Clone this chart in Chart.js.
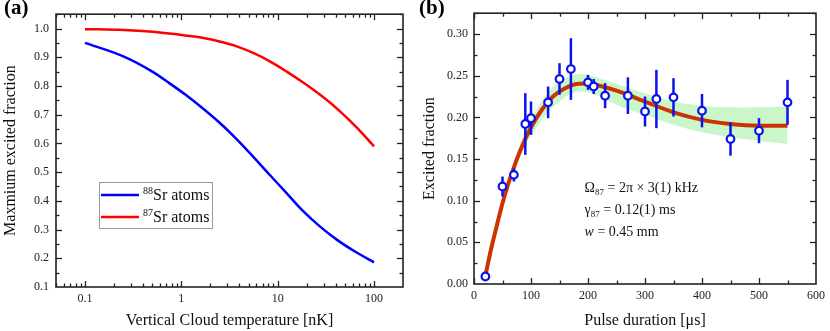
<!DOCTYPE html>
<html>
<head>
<meta charset="utf-8">
<script src="https://cdn.jsdelivr.net/npm/chart.js@4.4.1/dist/chart.umd.min.js"></script>
<style>
  html, body { margin: 0; padding: 0; background: #fff; }
  #wrap { position: relative; width: 830px; height: 331px; }
  .panel { position: absolute; top: 0; width: 415px; height: 331px; }
</style>
</head>
<body>
<div id="wrap">
  <div class="panel" style="left:0"><canvas id="tempChart" width="415" height="331"></canvas></div>
  <div class="panel" style="left:415px"><canvas id="pulseChart" width="415" height="331"></canvas></div>
</div>
<script>
// ---- panel (a) data ----
const tempValues   = [0.1, 0.25, 0.5, 0.75, 1.1, 1.7, 2.5, 3.7, 5.5, 8.3, 12.3, 18.4, 27.4, 41, 66, 100];
const sr88Fraction = [0.950, 0.903, 0.850, 0.810, 0.770, 0.720, 0.672, 0.617, 0.556, 0.490, 0.428, 0.364, 0.311, 0.265, 0.220, 0.186];
const sr87Fraction = [0.998, 0.995, 0.989, 0.983, 0.976, 0.967, 0.955, 0.939, 0.916, 0.886, 0.851, 0.812, 0.770, 0.722, 0.656, 0.590];
const tempTicks    = [0.1, 1, 10, 100];
const legendIsotopes = ['88', '87'];
const legendText     = 'Sr atoms';

// ---- panel (b) data ----
const pulseTimes      = [20, 50, 70, 90, 100, 130, 150, 170, 200, 210, 230, 270, 300, 320, 350, 400, 450, 500, 550];
const excitedMeasured = [0.009, 0.117, 0.131, 0.192, 0.199, 0.218, 0.246, 0.258, 0.242, 0.237, 0.226, 0.226, 0.207, 0.222, 0.224, 0.208, 0.174, 0.184, 0.218];
const excitedErrors   = [0.002, 0.012, 0.008, 0.037, 0.020, 0.019, 0.019, 0.037, 0.009, 0.009, 0.015, 0.022, 0.018, 0.035, 0.023, 0.020, 0.020, 0.015, 0.027];
const fitTimes  = [20, 30, 40, 50, 60, 70, 80, 90, 100, 120, 140, 160, 180, 200, 220, 250, 300, 350, 400, 450, 500, 550];
const fitValues = [0.010, 0.042, 0.070, 0.097, 0.120, 0.140, 0.158, 0.174, 0.188, 0.210, 0.226, 0.235, 0.240, 0.2405, 0.238, 0.232, 0.219, 0.206, 0.197, 0.192, 0.190, 0.190];
const bandTimes = [30, 50, 70, 90, 110, 130, 150, 170, 190, 220, 260, 300, 350, 400, 450, 500, 550];
const bandUpper = [0.045, 0.101, 0.146, 0.184, 0.210, 0.230, 0.243, 0.250, 0.252, 0.247, 0.238, 0.229, 0.219, 0.214, 0.212, 0.212, 0.213];
const bandLower = [0.039, 0.093, 0.134, 0.166, 0.188, 0.206, 0.219, 0.228, 0.231, 0.225, 0.212, 0.203, 0.191, 0.182, 0.176, 0.172, 0.168];
const fitLabels = [
  { sym: 'Ω', sub: '87', rest: ' = 2π × 3(1) kHz', italic: false },
  { sym: 'γ', sub: '87', rest: ' = 0.12(1) ms', italic: false },
  { sym: 'w', sub: '', rest: ' = 0.45 mm', italic: true }
];

const SERIF = '"Liberation Serif", "Times New Roman", serif';
const INK = '#222';

function pairs(xs, ys) {
  return xs.map((x, i) => ({ x: x, y: ys[i] }));
}

// frame + inward ticks on all four sides
const frameTicks = {
  id: 'frameTicks',
  afterDraw(chart, args, opts) {
    const { ctx, chartArea: a, scales: { x, y } } = chart;
    ctx.save();
    ctx.strokeStyle = INK;
    ctx.lineWidth = 1.3;
    const seg = (x1, y1, x2, y2) => { ctx.beginPath(); ctx.moveTo(x1, y1); ctx.lineTo(x2, y2); ctx.stroke(); };
    const xMarks = x.ticks.map(t => [t.value, 6]).concat(opts.xMinor.map(v => [v, 3.5]));
    const yMarks = y.ticks.map(t => [t.value, 6]).concat(opts.yMinor.map(v => [v, 3.5]));
    xMarks.forEach(([v, len]) => {
      const px = Math.round(x.getPixelForValue(v)) + 0.5;
      if (px < a.left || px > a.right) return;
      seg(px, a.bottom, px, a.bottom - len);
      seg(px, a.top, px, a.top + len);
    });
    yMarks.forEach(([v, len]) => {
      const py = Math.round(y.getPixelForValue(v)) + 0.5;
      if (py < a.top || py > a.bottom) return;
      seg(a.left, py, a.left + len, py);
      seg(a.right, py, a.right - len, py);
    });
    ctx.lineWidth = 1.6;
    ctx.strokeRect(a.left, a.top, a.width, a.height);
    // panel letter
    ctx.fillStyle = '#000';
    ctx.font = 'bold 21px ' + SERIF;
    ctx.textBaseline = 'alphabetic';
    ctx.textAlign = 'left';
    ctx.fillText(opts.letter, 4, 14);
    ctx.restore();
  }
};

// legend of panel (a), with superscript mass numbers
const isoLegend = {
  id: 'isoLegend',
  afterDraw(chart) {
    const { ctx } = chart;
    ctx.save();
    ctx.strokeStyle = '#999';
    ctx.lineWidth = 1;
    ctx.strokeRect(99.5, 182.5, 113, 46);
    chart.data.datasets.forEach((ds, i) => {
      const yy = 195 + i * 22;
      ctx.strokeStyle = ds.borderColor;
      ctx.lineWidth = 2.5;
      ctx.beginPath(); ctx.moveTo(101, yy); ctx.lineTo(139, yy); ctx.stroke();
      ctx.fillStyle = '#111';
      ctx.textAlign = 'left';
      ctx.textBaseline = 'alphabetic';
      ctx.font = '10px ' + SERIF;
      ctx.fillText(legendIsotopes[i], 143, yy - 1);
      ctx.font = '16px ' + SERIF;
      ctx.fillText(legendText, 153, yy + 5);
    });
    ctx.restore();
  }
};

// vertical error bars, drawn just before the open circles
const errorBars = {
  id: 'errorBars',
  beforeDatasetDraw(chart, args) {
    if (args.index !== 0) return;
    const { ctx, scales: { x, y } } = chart;
    ctx.save();
    ctx.strokeStyle = '#0a12f0';
    ctx.lineWidth = 2.5;
    pulseTimes.forEach((t, i) => {
      const px = x.getPixelForValue(t);
      ctx.beginPath();
      ctx.moveTo(px, y.getPixelForValue(excitedMeasured[i] - excitedErrors[i]));
      ctx.lineTo(px, y.getPixelForValue(excitedMeasured[i] + excitedErrors[i]));
      ctx.stroke();
    });
    ctx.restore();
  }
};

// fit parameter text in panel (b)
const fitText = {
  id: 'fitText',
  afterDraw(chart) {
    const { ctx, scales: { x, y } } = chart;
    ctx.save();
    ctx.fillStyle = '#111';
    ctx.textAlign = 'left';
    ctx.textBaseline = 'alphabetic';
    const px0 = x.getPixelForValue(194);
    fitLabels.forEach((f, i) => {
      const py = y.getPixelForValue(0.110 - i * 0.026);
      let px = px0;
      ctx.font = (f.italic ? 'italic ' : '') + '14px ' + SERIF;
      ctx.fillText(f.sym, px, py);
      px += ctx.measureText(f.sym).width;
      if (f.sub) {
        ctx.font = '9px ' + SERIF;
        ctx.fillText(f.sub, px, py + 3);
        px += ctx.measureText(f.sub).width;
      }
      ctx.font = '14px ' + SERIF;
      ctx.fillText(f.rest, px, py);
    });
    ctx.restore();
  }
};

function logMinors(lo, hi) {
  const out = [];
  for (let d = -2; d <= 2; d++) {
    for (let k = 2; k <= 9; k++) {
      const v = k * Math.pow(10, d);
      if (v >= lo && v <= hi) out.push(v);
    }
  }
  return out;
}

const tickFont = { family: SERIF, size: 12 };
const titleFont = { family: SERIF, size: 16 };

// ---- panel (a) ----
new Chart(document.getElementById('tempChart'), {
  type: 'line',
  data: {
    datasets: [
      {
        label: '88Sr atoms',
        data: pairs(tempValues, sr88Fraction),
        borderColor: '#0000ff',
        borderWidth: 2.5,
        pointRadius: 0,
        cubicInterpolationMode: 'monotone',
        fill: false
      },
      {
        label: '87Sr atoms',
        data: pairs(tempValues, sr87Fraction),
        borderColor: '#ff0000',
        borderWidth: 2.5,
        pointRadius: 0,
        cubicInterpolationMode: 'monotone',
        fill: false
      }
    ]
  },
  options: {
    responsive: false,
    animation: false,
    layout: { padding: { left: 0, right: 12, top: 8, bottom: 0 } },
    plugins: {
      legend: { display: false },
      tooltip: { enabled: false },
      frameTicks: { letter: '(a)', xMinor: logMinors(0.05, 200), yMinor: [0.15, 0.25, 0.35, 0.45, 0.55, 0.65, 0.75, 0.85, 0.95, 1.05] }
    },
    scales: {
      x: {
        type: 'logarithmic',
        min: 0.05,
        max: 200,
        afterBuildTicks: s => { s.ticks = tempTicks.map(v => ({ value: v })); },
        afterFit: s => { s.height = 44; },
        grid: { display: false, drawTicks: false },
        border: { display: false },
        ticks: { font: tickFont, color: INK, padding: 5, maxRotation: 0, callback: v => String(v) },
        title: { display: true, text: 'Vertical Cloud temperature [nK]', font: titleFont, color: '#111', padding: { top: 0, bottom: 0.5 } }
      },
      y: {
        min: 0.1,
        max: 1.05,
        afterFit: s => { s.width = 56; },
        grid: { display: false, drawTicks: false },
        border: { display: false },
        ticks: { stepSize: 0.1, includeBounds: false, font: tickFont, color: INK, padding: 7, callback: v => v.toFixed(1) },
        title: { display: true, text: 'Maxmium excited fraction', font: titleFont, color: '#111', padding: { top: 1, bottom: 0 } }
      }
    }
  },
  plugins: [frameTicks, isoLegend]
});

// ---- panel (b) ----
new Chart(document.getElementById('pulseChart'), {
  type: 'line',
  data: {
    datasets: [
      {
        label: 'Measured',
        data: pairs(pulseTimes, excitedMeasured),
        showLine: false,
        pointRadius: 3.8,
        pointBorderWidth: 2.2,
        pointBorderColor: '#0a12f0',
        pointBackgroundColor: '#ffffff'
      },
      {
        label: 'Fit',
        data: pairs(fitTimes, fitValues),
        borderColor: '#cc3300',
        borderWidth: 4,
        pointRadius: 0,
        cubicInterpolationMode: 'monotone',
        fill: false
      },
      {
        label: 'Upper',
        data: pairs(bandTimes, bandUpper),
        borderWidth: 0,
        borderColor: 'rgba(0,0,0,0)',
        pointRadius: 0,
        tension: 0.4,
        fill: '+1',
        backgroundColor: '#c9f7c9'
      },
      {
        label: 'Lower',
        data: pairs(bandTimes, bandLower),
        borderWidth: 0,
        borderColor: 'rgba(0,0,0,0)',
        pointRadius: 0,
        tension: 0.4,
        fill: false
      }
    ]
  },
  options: {
    responsive: false,
    animation: false,
    layout: { padding: { left: 0, right: 12, top: 7, bottom: 0 } },
    plugins: {
      legend: { display: false },
      tooltip: { enabled: false },
      frameTicks: { letter: '(b)', xMinor: [50, 150, 250, 350, 450, 550], yMinor: [0.025, 0.075, 0.125, 0.175, 0.225, 0.275, 0.325] }
    },
    scales: {
      x: {
        type: 'linear',
        min: 0,
        max: 600,
        afterFit: s => { s.height = 47; },
        grid: { display: false, drawTicks: false },
        border: { display: false },
        ticks: { stepSize: 100, font: tickFont, color: INK, padding: 5, maxRotation: 0 },
        title: { display: true, text: 'Pulse duration [μs]', font: titleFont, color: '#111', padding: { top: 0, bottom: 0.5 } }
      },
      y: {
        min: 0,
        max: 0.325,
        afterFit: s => { s.width = 59; },
        grid: { display: false, drawTicks: false },
        border: { display: false },
        ticks: { stepSize: 0.05, includeBounds: false, font: tickFont, color: INK, padding: 6, callback: v => v.toFixed(2) },
        title: { display: true, text: 'Excited fraction', font: titleFont, color: '#111', padding: { top: 5, bottom: 0 } }
      }
    }
  },
  plugins: [frameTicks, errorBars, fitText]
});
</script>
</body>
</html>
